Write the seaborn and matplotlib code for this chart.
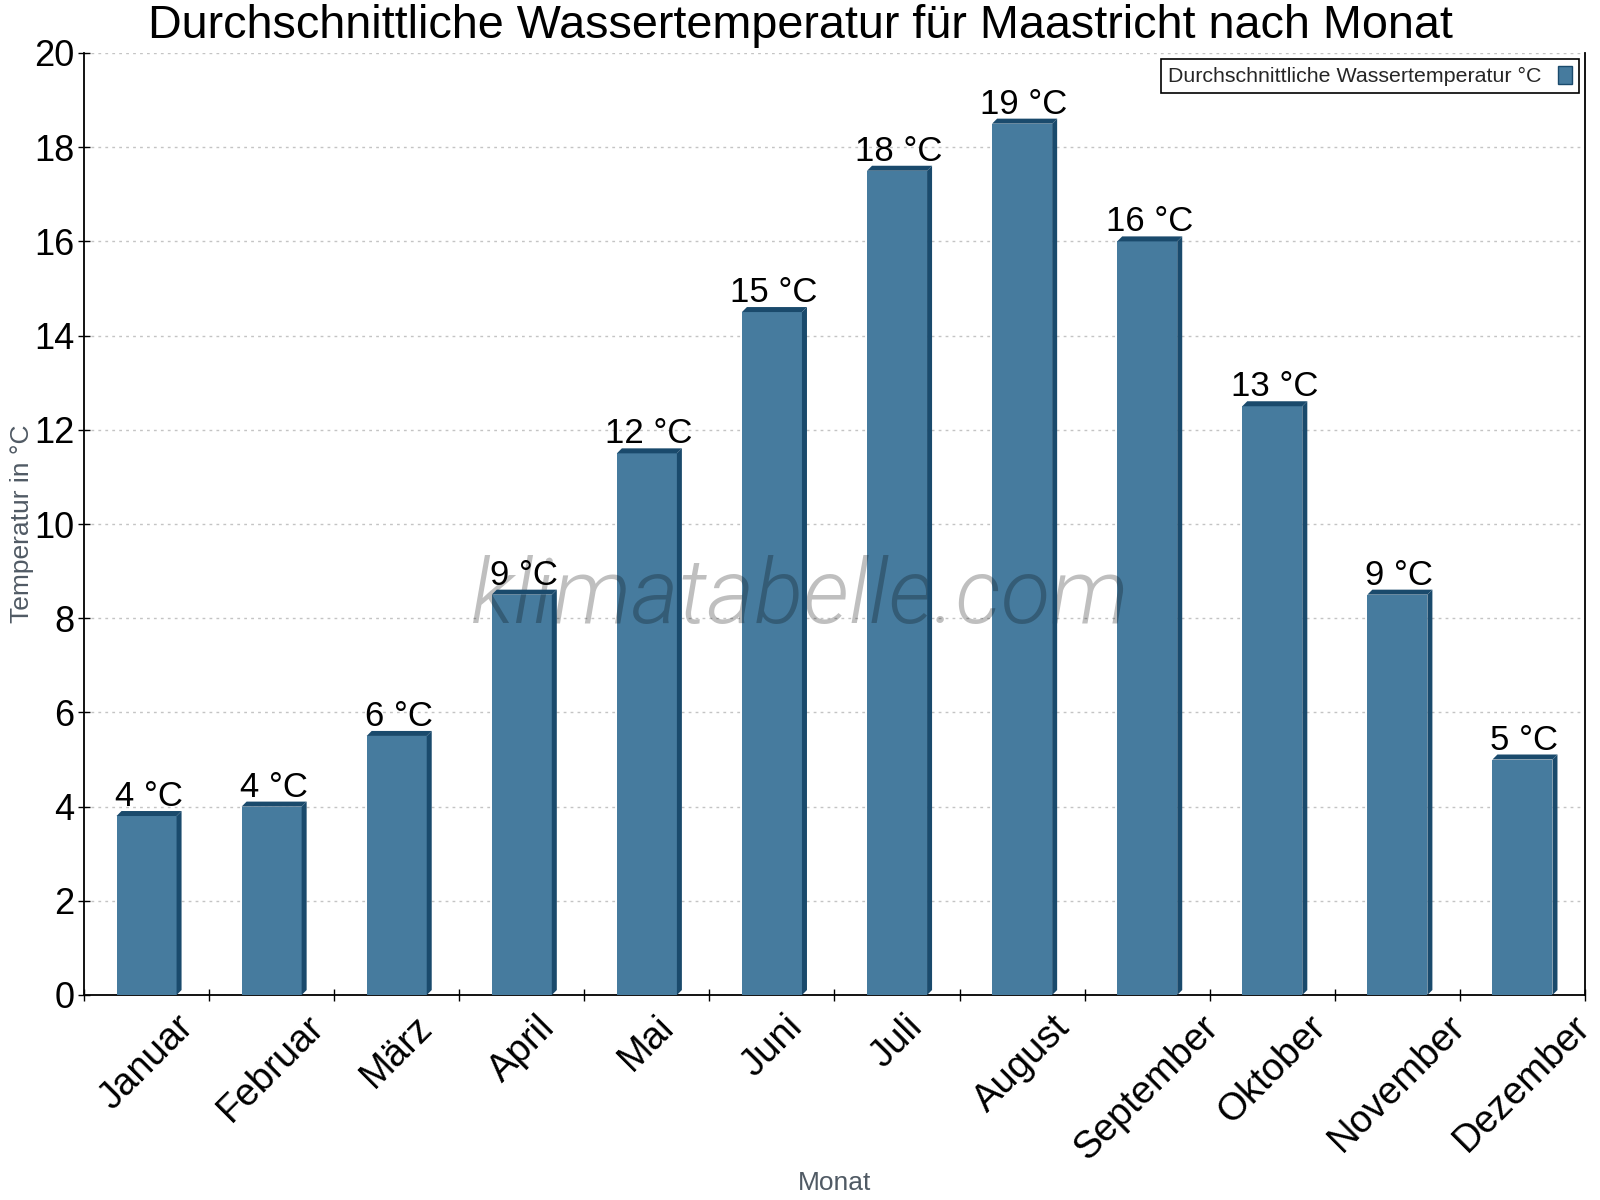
import matplotlib
matplotlib.use("Agg")
import matplotlib.pyplot as plt
import seaborn as sns
import pandas as pd
from matplotlib.patches import Polygon, Patch
from matplotlib.transforms import IdentityTransform
from matplotlib import font_manager

months = ["Januar", "Februar", "März", "April", "Mai", "Juni", "Juli",
          "August", "September", "Oktober", "November", "Dezember"]
temps = [3.8, 4.0, 5.5, 8.5, 11.5, 14.5, 17.5, 18.5, 16.0, 12.5, 8.5, 5.0]
labels = ["4 °C", "4 °C", "6 °C", "9 °C", "12 °C", "15 °C", "18 °C",
          "19 °C", "16 °C", "13 °C", "9 °C", "5 °C"]
series_name = "Durchschnittliche Wassertemperatur °C"
title = "Durchschnittliche Wassertemperatur für Maastricht nach Monat"

FRONT = "#467B9E"
DARK = "#1A4A6C"

sns.set_theme(style="white")
plt.rcParams["font.family"] = ["Liberation Sans", "DejaVu Sans"]

# pick a light font for the watermark if available
wm_family, wm_weight = "Liberation Sans", "normal"
names = {(f.name, f.weight) for f in font_manager.fontManager.ttflist}
for fam in ["Roboto", "Lato", "Open Sans", "Inter", "Noto Sans"]:
    light = [w for (n, w) in names if n == fam and isinstance(w, int) and w <= 300]
    if light:
        wm_family, wm_weight = fam, max(light)
        break

fig = plt.figure(figsize=(16, 12), dpi=100)
W, H = 1600, 1200
L, R, T, B = 84, 1585, 53, 995
ax = fig.add_axes([L / W, 1 - B / H, (R - L) / W, (B - T) / H])

df = pd.DataFrame({"Monat": months, "Temp": temps})
sns.barplot(data=df, x="Monat", y="Temp", color=FRONT, saturation=1,
            width=0.48, ax=ax, zorder=3, linewidth=0)

ax.set_xlim(-0.5, len(months) - 0.5)
ax.set_ylim(0, 20)
ax.set_yticks(range(0, 21, 2))
ax.tick_params(axis="y", labelsize=26, direction="inout", length=8, width=1,
               colors="black", pad=3, left=True)
ax.set_xticks(range(len(months)))
ax.set_xticklabels(months, rotation=45, ha="center", fontsize=27.5)
ax.tick_params(axis="x", which="major", length=0, pad=10, labelcolor="black")
ax.set_xticks([i - 0.5 for i in range(len(months) + 1)], minor=True)
ax.tick_params(axis="x", which="minor", direction="inout", length=8, width=1,
               colors="black", bottom=True)

ax.yaxis.grid(True, linestyle=(0, (2, 3)), color="#c4c4c4", linewidth=1, zorder=0)
ax.xaxis.grid(False)
ax.set_axisbelow(True)

for side in ["left", "bottom", "right"]:
    ax.spines[side].set_visible(True)
    ax.spines[side].set_color("black")
    ax.spines[side].set_linewidth(1.3)
ax.spines["top"].set_visible(False)

ax.set_xlabel("Monat", fontsize=19, color="#505a64")
ax.set_ylabel("Temperatur in °C", fontsize=19, color="#505a64")
ax.xaxis.set_label_coords(0.5, -(1171 - B) / (B - T))
ax.yaxis.set_label_coords(-(L - 34) / (R - L), 0.5)

# 3D effect
fig.canvas.draw()
dx, dy = 5, 5
tr = ax.transData
for p, lab in zip(ax.patches, labels):
    x0, w, h = p.get_x(), p.get_width(), p.get_height()
    (px0, py0) = tr.transform((x0, 0))
    (px1, py1) = tr.transform((x0 + w, h))
    side = Polygon([(px1, py0), (px1, py1), (px1 + dx, py1 + dy), (px1 + dx, py0 + dy)],
                   closed=True, facecolor=DARK, edgecolor="none",
                   transform=IdentityTransform(), zorder=3.5)
    cap = Polygon([(px0, py1), (px1, py1), (px1 + dx, py1 + dy), (px0 + dx, py1 + dy)],
                  closed=True, facecolor=DARK, edgecolor="none",
                  transform=IdentityTransform(), zorder=3.5)
    fig.add_artist(side)
    fig.add_artist(cap)
    ax.annotate(lab, xy=(x0 + w / 2, h), xytext=(2, 10), textcoords="offset pixels",
                ha="center", va="baseline", fontsize=25, color="black", zorder=12)

handle = Patch(facecolor=FRONT, edgecolor=DARK, linewidth=1)
leg = ax.legend([handle], [series_name], loc="upper right", bbox_to_anchor=(1, 1),
                borderaxespad=0.3, fontsize=15.4, markerfirst=False, fancybox=False,
                framealpha=1, edgecolor="black", handlelength=0.65, handleheight=0.9,
                handletextpad=0.8, borderpad=0.3)
leg.get_frame().set_linewidth(1.2)
leg.set_zorder(13)

ax.text((800 - L) / (R - L), (B - 598) / (B - T), "klimatabelle.com",
        transform=ax.transAxes, ha="center", va="center", fontsize=65.5,
        style="italic", family=wm_family, fontweight=wm_weight,
        color="black", alpha=0.25, zorder=10)

fig.text(0.5, 1 - 38 / H, title, ha="center", va="baseline", fontsize=33.7,
         color="black")

fig.savefig("out.png", dpi=100, facecolor="white")
